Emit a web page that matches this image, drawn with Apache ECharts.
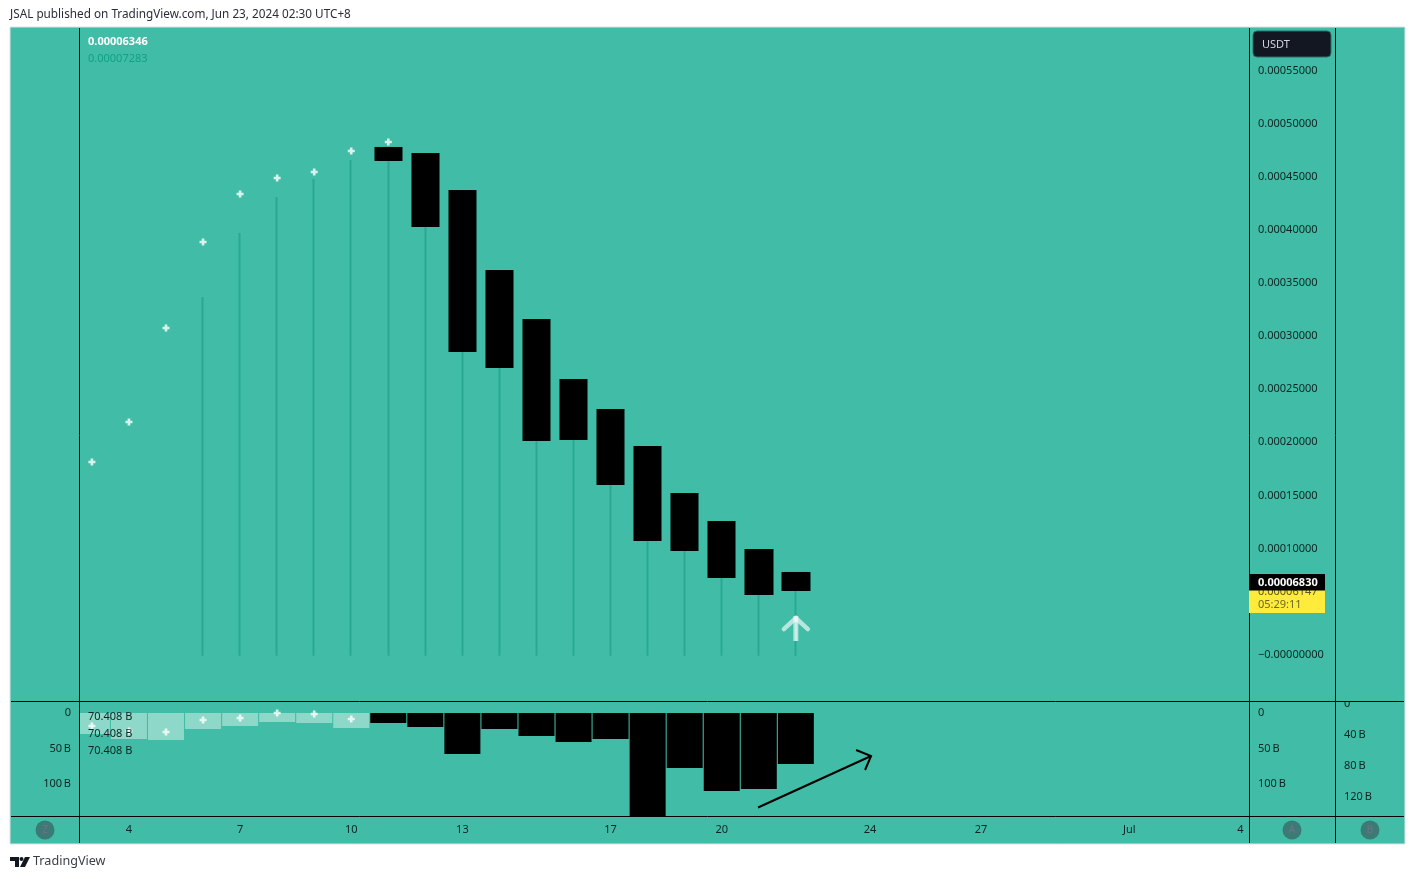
<!DOCTYPE html>
<html><head><meta charset="utf-8">
<style>html,body{margin:0;padding:0;background:#fff}#c{width:1415px;height:879px}</style>
<script src="https://cdn.jsdelivr.net/npm/echarts@6/dist/echarts.min.js"></script>
</head><body><div id="c"></div>
<script>
// ---- data ----
const dayIndex = [0,1,2,3,4,5,6,7,8,9,10,11,12,13,14,15,16,17,18,19];
const opens  = [0,0,0,0.00033680,0.00039710,0.00043100,0.00044790,0.00046580,0.00047810,0.00047240,0.00043760,0.00036220,0.00031610,0.00025960,0.00023140,0.00019650,0.00015230,0.00012590,0.00009950,0.00007790];
const closes = [0.00018145,0.00021912,0.00030763,0.00038861,0.00043381,0.00044887,0.00045452,0.00047430,0.00046490,0.00040270,0.00028500,0.00027000,0.00020120,0.00020220,0.00015980,0.00010710,0.00009760,0.00007220,0.00005620,0.00006000];
const lows   = [0,0,0,-0.000001,-0.000001,-0.000001,-0.000001,-0.000001,-0.000001,-0.000001,-0.000001,-0.000001,-0.000001,-0.000001,-0.000001,-0.000001,-0.000001,-0.000001,-0.000001,-0.000001];
const crossPrice = [0.00018145,0.00021912,0.00030763,0.00038861,0.00043381,0.00044887,0.00045452,0.00047430,0.00048277];
const volumes = [29.6,36.6,38.0,22.5,18.3,12.7,14.1,21.1,14.1,19.7,57.7,22.5,32.4,40.8,36.6,146.5,77.5,109.9,107.0,71.8];
const crossDays = [0,1,2,3,4,5,6,7];
const crossVol = [28.4,34.8,36.1,20.6,18.1,11.6,12.9,19.4];
const priceTicks = [0,0.0001,0.00015,0.0002,0.00025,0.0003,0.00035,0.0004,0.00045,0.0005,0.00055];
const zeroLabel = '\u22120.00000000';
const volTicks = [0,50,100];
const vol2Ticks = [0,40,80,120];
const xTicks = [1,4,7,10,14,17,21,24,28,31];
const xTickLabels = ['4','7','10','13','17','20','24','27','Jul','4'];
const legendValues = ['0.00006346','0.00007283'];
const lastPrice = '0.00006830', prevClose = '0.00006147', countdown = '05:29:11';
const volLegend = ['70.408 B','70.408 B','70.408 B'];
// annotation anchors in data units: [x1,y1,x2,y2]
const upArrow = [[19,0.0000129,19,0.0000364]];
const trendArrow = [[17.98,133,21.03,60.5]];

const BG='#41bda7', TXT='#0e2422', FONT='"Noto Sans"', FS=11;
const PLUS='path://M2.5,0H5.5V2.5H8V5.5H5.5V8H2.5V5.5H0V2.5H2.5Z';
const fmtVol=v=>v===0?'0':v+'\u2009B';
const priceLabel=v=>v===0?zeroLabel:v.toFixed(8);
const yLabel={color:TXT,fontFamily:FONT,fontSize:FS,margin:9,padding:[4,0,0,0]};
const none={show:false};
const XMIN=-0.3212, XMAX=31.231;

const chart=echarts.init(document.getElementById('c'),null,{renderer:'canvas'});
const txt=(x,y,t,o={})=>({type:'text',x,y,z:o.z||50,style:{text:t,fill:o.fill||TXT,font:(o.w||'normal')+' '+(o.fs||FS)+'px '+FONT,textAlign:o.a||'left',textVerticalAlign:'middle'}});
const ln=(x1,y1,x2,y2,z)=>({type:'line',z:z||40,shape:{x1,y1,x2,y2},style:{stroke:'#000',lineWidth:1}});
const badge=(x,l)=>[{type:'circle',z:41,shape:{cx:x,cy:830,r:9.5},style:{fill:'#3c7b75'}},txt(x,830,l,{a:'center',fill:'#736f86',fs:10,z:42})];

chart.setOption({
  animation:false,
  backgroundColor:'#fff',
  grid:[
    {left:80,top:28,width:1169,height:673},
    {left:80,top:702,width:1169,height:114}
  ],
  xAxis:[
    {type:'value',gridIndex:0,min:XMIN,max:XMAX,show:false,splitLine:none},
    {type:'value',gridIndex:1,min:XMIN,max:XMAX,splitLine:none,axisLine:none,axisTick:none,
     axisLabel:{color:TXT,fontFamily:FONT,fontSize:FS,margin:8,customValues:xTicks,showMinLabel:true,showMaxLabel:true,
       formatter:v=>xTickLabels[xTicks.indexOf(Math.round(v))]}}
  ],
  yAxis:[
    {type:'value',gridIndex:0,position:'right',min:-0.0000436,max:0.00059011,splitLine:none,axisLine:none,axisTick:none,
     axisLabel:Object.assign({},yLabel,{customValues:priceTicks,formatter:priceLabel})},
    {type:'value',gridIndex:1,position:'left',inverse:true,min:-15.5,max:145,splitLine:none,axisLine:none,axisTick:none,
     axisLabel:Object.assign({},yLabel,{customValues:volTicks,formatter:fmtVol})},
    {type:'value',gridIndex:1,position:'right',inverse:true,min:-15.5,max:145,splitLine:none,axisLine:none,axisTick:none,
     axisLabel:Object.assign({},yLabel,{customValues:volTicks,formatter:fmtVol})},
    {type:'value',gridIndex:1,position:'right',offset:86,inverse:true,min:-2.6,max:144.5,splitLine:none,axisLine:none,axisTick:none,
     axisLabel:Object.assign({},yLabel,{customValues:vol2Ticks,formatter:fmtVol})}
  ],
  series:[
    {name:'Wicks',type:'candlestick',xAxisIndex:0,yAxisIndex:0,barWidth:1,encode:{x:0,y:[1,2,3,4]},z:2,
     itemStyle:{color:'#29a992',color0:'#29a992',borderColor:'#29a992',borderColor0:'#29a992',borderWidth:2},
     data:dayIndex.map((d,i)=>{const b=Math.min(opens[i],closes[i]);return [d,b,b,lows[i],b];}).filter(r=>r[1]>0)},
    {name:'Candles',type:'candlestick',xAxisIndex:0,yAxisIndex:0,barWidth:29,encode:{x:0,y:[1,2,3,4]},z:3,
     itemStyle:{color:BG,color0:'#000',borderColor:BG,borderColor0:'#000',borderWidth:0},
     data:dayIndex.map((d,i)=>[d,opens[i],closes[i],Math.min(opens[i],closes[i]),Math.max(opens[i],closes[i])])},
    {name:'Price marks',type:'scatter',xAxisIndex:0,yAxisIndex:0,symbol:PLUS,symbolSize:7,z:5,
     itemStyle:{color:'#fff'},data:crossPrice.map((v,i)=>[dayIndex[i],v])},
    {name:'Signal',type:'custom',xAxisIndex:0,yAxisIndex:0,z:6,clip:false,
     encode:{x:[0,2],y:[1,3]},data:upArrow,
     renderItem:(p,api)=>{
       const a=api.coord([api.value(0),api.value(1)]),b=api.coord([api.value(2),api.value(3)]);
       const st={fill:'none',stroke:'rgba(255,255,255,0.62)',lineWidth:4.5,lineCap:'round'};
       return {type:'group',children:[
         {type:'polyline',shape:{points:[[b[0]-12,b[1]+13],[b[0],b[1]+2],[b[0]+12,b[1]+13]]},style:st},
         {type:'line',shape:{x1:a[0],y1:a[1],x2:b[0],y2:b[1]},style:{stroke:'rgba(255,255,255,0.6)',lineWidth:5}},
         {type:'line',shape:{x1:a[0],y1:a[1],x2:b[0],y2:b[1]},style:{stroke:'rgba(255,255,255,0.45)',lineWidth:2}}
       ]};
     }},
    {name:'Volume',type:'bar',xAxisIndex:1,yAxisIndex:1,barWidth:36,z:2,
     data:volumes.map((v,i)=>({value:[dayIndex[i],v],itemStyle:{color:closes[i]>opens[i]?'#8dd8c8':'#000'}}))},
    {name:'Volume marks',type:'scatter',xAxisIndex:1,yAxisIndex:3,symbol:PLUS,symbolSize:7,z:5,
     itemStyle:{color:'#fff'},data:crossVol.map((v,i)=>[crossDays[i],v])},
    {name:'Trend',type:'custom',xAxisIndex:1,yAxisIndex:1,z:6,clip:false,
     encode:{x:[0,2],y:[1,3]},data:trendArrow,
     renderItem:(p,api)=>{
       const a=api.coord([api.value(0),api.value(1)]),b=api.coord([api.value(2),api.value(3)]);
       const s={fill:'none',stroke:'#000',lineWidth:2};
       return {type:'group',children:[
         {type:'line',shape:{x1:a[0],y1:a[1],x2:b[0],y2:b[1]},style:s},
         {type:'polyline',shape:{points:[[b[0]-15,b[1]-6],[b[0],b[1]],[b[0]-6,b[1]+14]]},style:s}
       ]};
     }}
  ],
  graphic:{elements:[
    {type:'rect',z:-5,shape:{x:10,y:27,width:1395,height:817},style:{fill:BG,stroke:'#dde3e6',lineWidth:1}},
    // keeps the first volume bar inside the plot
    {type:'rect',z:39,shape:{x:72,y:702,width:8,height:60},style:{fill:BG}},
    // frame
    ln(79.5,28,79.5,843),ln(1249.5,28,1249.5,843),ln(1335.5,28,1335.5,843),
    ln(11,701.5,1404,701.5),ln(11,816.5,1404,816.5),
    // clip of the top label on the far right scale
    {type:'rect',z:39,shape:{x:1336,y:690,width:68,height:11},style:{fill:BG}},
    // header/footer
    txt(10,15,'JSAL published on TradingView.com, Jun 23, 2024 02:30 UTC+8',{fill:'#2a2e39',fs:11.75}),
    txt(33,861.5,'TradingView',{fill:'#3a3e49',fs:12.6}),
    {type:'polygon',z:50,shape:{points:[[10,857],[19,857],[19,867],[15,867],[15,861],[10,861]]},style:{fill:'#131722'}},
    {type:'circle',z:50,shape:{cx:21.5,cy:859,r:2},style:{fill:'#131722'}},
    {type:'polygon',z:50,shape:{points:[[25,857],[30,857],[25,867],[20,867]]},style:{fill:'#131722'}},
    // legends
    txt(88,42,legendValues[0],{fill:'#fff',w:'bold'}),
    txt(88,59,legendValues[1],{fill:'#12a085'}),
    txt(88,717,volLegend[0]),txt(88,734,volLegend[1]),txt(88,751,volLegend[2]),
    // currency button
    {type:'rect',z:45,shape:{x:1253,y:31,width:78,height:26,r:4},style:{fill:'#131722',stroke:'#2a6d66',lineWidth:1}},
    txt(1262,45,'USDT',{fill:'#d1d4dc'}),
    // last price tags
    {type:'rect',z:45,shape:{x:1249,y:590,width:76,height:23},style:{fill:'#ffeb3b'}},
    txt(1258,592,prevClose,{fill:'#5a5a20',z:46}),
    txt(1258,604.5,countdown,{fill:'#6b6a22',z:46}),
    {type:'rect',z:47,shape:{x:1249,y:574,width:76,height:16.5},style:{fill:'#000'}},
    txt(1258,582.5,lastPrice,{fill:'#fff',w:'bold',z:48}),
    ...badge(45,'Z'),...badge(1292,'A'),...badge(1370,'B')
  ]}
});
</script></body></html>
